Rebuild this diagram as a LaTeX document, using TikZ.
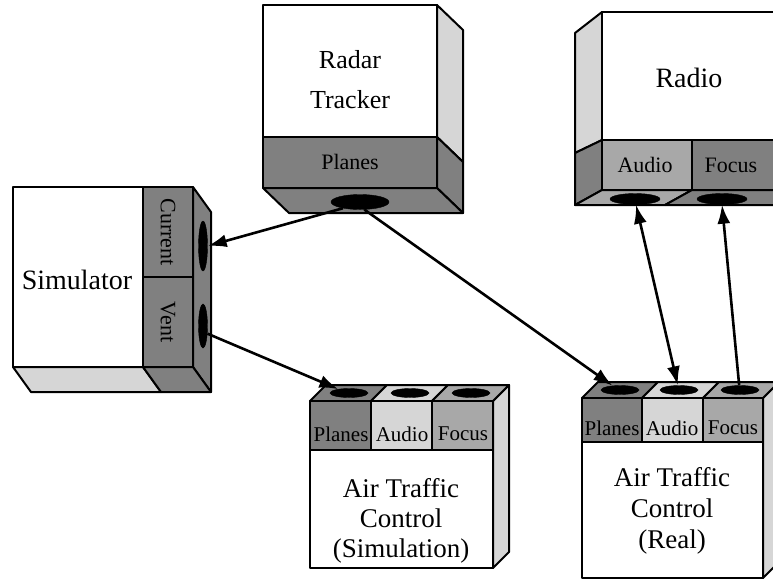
\documentclass[tikz,border=0pt]{standalone}
\usepackage{fontspec}
\setmainfont{Liberation Serif}
\usetikzlibrary{shapes.geometric,arrows.meta}
\definecolor{darkface}{gray}{0.50}
\definecolor{midface}{gray}{0.66}
\definecolor{lightface}{gray}{0.84}
\begin{document}
\begin{tikzpicture}[x=1pt,y=-1pt,
  face/.style={draw=black, line width=2pt, line join=round},
  port/.style={ellipse, fill=black, draw=black, inner sep=0pt},
  big/.style={font=\fontsize{27}{30}\selectfont, align=center, inner sep=0pt},
  bigwide/.style={font=\fontsize{26}{40}\selectfont, align=center, inner sep=0pt},
  lab/.style={font=\fontsize{21}{21}\selectfont, inner sep=0pt},
  labbig/.style={font=\fontsize{22}{22}\selectfont, inner sep=0pt},
  arr/.style={line width=2.6pt, -{Latex[length=19pt,width=13pt]}},
  darr/.style={line width=2.6pt, {Latex[length=19pt,width=13pt]}-{Latex[length=19pt,width=13pt]}}]
\useasboundingbox (0,0) rectangle (773,582);
\clip (0,0) rectangle (773,582);

% ---------------- Radar Tracker ----------------
\filldraw[face, fill=lightface] (437,5) -- (463,30) -- (463,162) -- (437,137) -- cycle;
\filldraw[face, fill=darkface] (437,137) -- (463,162) -- (463,213) -- (437,188) -- cycle;
\filldraw[face, fill=darkface] (263,188) -- (437,188) -- (463,213) -- (289,213) -- cycle;
\filldraw[face, fill=white] (263,5) rectangle (437,137);
\filldraw[face, fill=darkface] (263,137) rectangle (437,188);
\node[bigwide] (rt) at (350,80) {Radar\\Tracker};
\node[labbig] (rtplanes) at (350,162) {Planes};
\node[port, minimum width=58pt, minimum height=15pt] (rtport) at (360,202) {};

% ---------------- Radio ----------------
\filldraw[face, fill=lightface] (602,12) -- (575,33) -- (575,153) -- (602,140) -- cycle;
\filldraw[face, fill=darkface] (602,140) -- (575,153) -- (575,205) -- (602,190) -- cycle;
\filldraw[face, fill=midface] (602,190) -- (692,190) -- (665,205) -- (575,205) -- cycle;
\filldraw[face, fill=darkface] (692,190) -- (790,190) -- (790,205) -- (665,205) -- cycle;
\filldraw[face, fill=white] (602,12) rectangle (790,140);
\filldraw[face, fill=midface] (602,140) rectangle (692,190);
\filldraw[face, fill=darkface] (692,140) rectangle (790,190);
\node[font=\fontsize{28}{28}\selectfont, inner sep=0pt] (rd) at (689,78) {Radio};
\node[labbig] (rdaudiolab) at (645,165) {Audio};
\node[labbig] (rdfocuslab) at (731,165) {Focus};
\node[port, minimum width=50pt, minimum height=11pt] (rdaudio) at (635,199) {};
\node[port, minimum width=50pt, minimum height=11pt] (rdfocus) at (722,199) {};

% ---------------- Simulator ----------------
\filldraw[face, fill=darkface] (193,187) -- (211,212) -- (211,392) -- (193,367) -- cycle;
\filldraw[face, fill=lightface] (13,367) -- (143,367) -- (161,392) -- (31,392) -- cycle;
\filldraw[face, fill=darkface] (143,367) -- (193,367) -- (211,392) -- (161,392) -- cycle;
\filldraw[face, fill=white] (13,187) rectangle (143,367);
\filldraw[face, fill=darkface] (143,187) rectangle (193,277);
\filldraw[face, fill=darkface] (143,277) rectangle (193,367);
\node[font=\fontsize{28}{28}\selectfont, inner sep=0pt] (sm) at (77,280) {Simulator};
\node[labbig, rotate=-90] (smcurlab) at (168,232) {Current};
\node[labbig, rotate=-90] (smventlab) at (168,322) {Vent};
\node[port, minimum width=9pt, minimum height=50pt] (smcur) at (203,246) {};
\node[port, minimum width=9pt, minimum height=44pt] (smvent) at (203,326) {};

% ---------------- Air Traffic Control (Simulation) ----------------
\filldraw[face, fill=lightface] (493,401) -- (509,385) -- (509,552) -- (493,568) -- cycle;
\filldraw[face, fill=darkface] (310,401) -- (371,401) -- (387,385) -- (326,385) -- cycle;
\filldraw[face, fill=lightface] (371,401) -- (432,401) -- (448,385) -- (387,385) -- cycle;
\filldraw[face, fill=midface] (432,401) -- (493,401) -- (509,385) -- (448,385) -- cycle;
\filldraw[face, fill=darkface] (310,401) rectangle (371,450);
\filldraw[face, fill=lightface] (371,401) rectangle (432,450);
\filldraw[face, fill=midface] (432,401) rectangle (493,450);
\filldraw[face, fill=white] (310,450) rectangle (493,568);
\node[lab] (asplaneslab) at (341,434) {Planes};
\node[lab] (asaudiolab) at (402,434) {Audio};
\node[lab] (asfocuslab) at (463,434) {Focus};
\node[port, minimum width=38pt, minimum height=9pt] (asplanes) at (349,393) {};
\node[port, minimum width=38pt, minimum height=9pt] (asaudio) at (410,393) {};
\node[port, minimum width=38pt, minimum height=9pt] (asfocus) at (471,393) {};
\node[big] (as) at (401,521) {Air Traffic\\Control\\(Simulation)};

% ---------------- Air Traffic Control (Real) ----------------
\filldraw[face, fill=lightface] (763,398) -- (779,382) -- (779,562) -- (763,578) -- cycle;
\filldraw[face, fill=darkface] (582,398) -- (642,398) -- (658,382) -- (598,382) -- cycle;
\filldraw[face, fill=lightface] (642,398) -- (703,398) -- (719,382) -- (658,382) -- cycle;
\filldraw[face, fill=midface] (703,398) -- (763,398) -- (779,382) -- (719,382) -- cycle;
\filldraw[face, fill=darkface] (582,398) rectangle (642,442);
\filldraw[face, fill=lightface] (642,398) rectangle (703,442);
\filldraw[face, fill=midface] (703,398) rectangle (763,442);
\filldraw[face, fill=white] (582,442) rectangle (763,578);
\node[lab] (arplaneslab) at (612,428) {Planes};
\node[lab] (araudiolab) at (672,428) {Audio};
\node[lab] (arfocuslab) at (733,428) {Focus};
\node[port, minimum width=38pt, minimum height=9pt] (arplanes) at (620,390) {};
\node[port, minimum width=38pt, minimum height=9pt] (araudio) at (679,390) {};
\node[port, minimum width=38pt, minimum height=9pt] (arfocus) at (740,390) {};
\node[big, font=\fontsize{27}{31}\selectfont] (ar) at (672,511) {Air Traffic\\Control\\(Real)};

% ---------------- Connectors ----------------
\draw[arr] (rtport.200) -- (smcur.east);
\draw[arr] (rtport.-60) -- (arplanes.150);
\draw[arr] (smvent.-60) -- (asplanes.160);
\draw[darr] (rdaudio.-80) -- (araudio.105);
\draw[arr] (arfocus.100) -- (rdfocus.-90);
\end{tikzpicture}
\end{document}
